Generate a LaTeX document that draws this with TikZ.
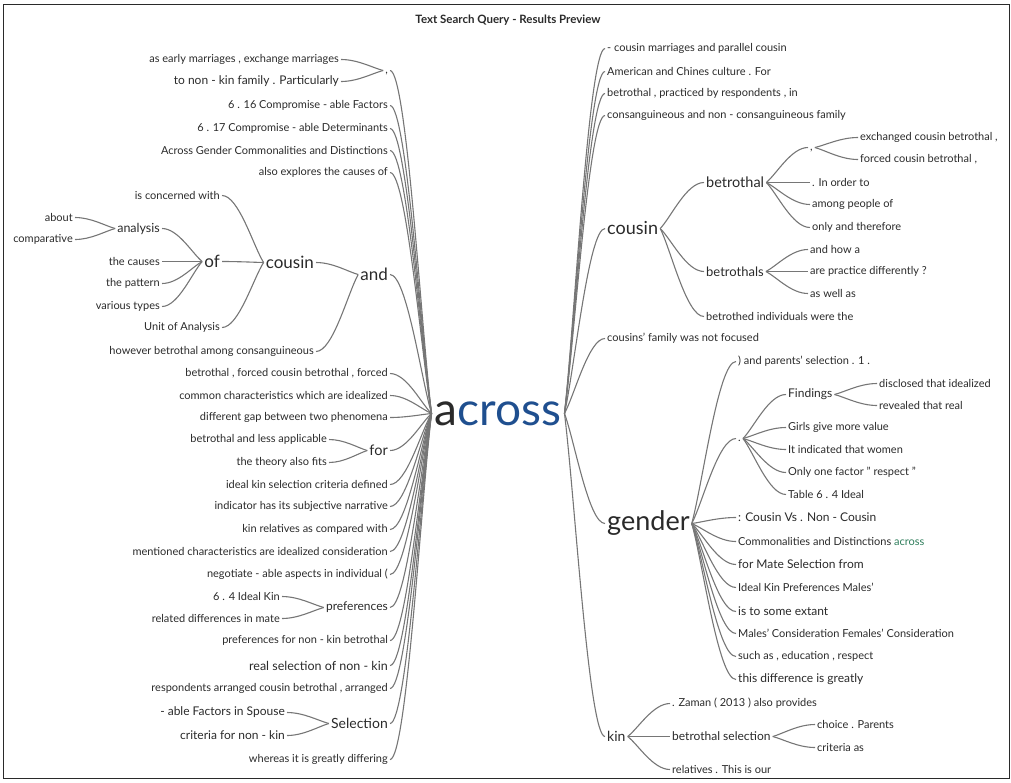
\documentclass[tikz,border=0pt]{standalone}
\usepackage{fontspec}
\setmainfont{Lato}
\usetikzlibrary{calc}

\definecolor{inkgray}{HTML}{2A2A2A}
\definecolor{wiregray}{HTML}{767676}
\definecolor{hitblue}{HTML}{1F4F8F}
\definecolor{hitgreen}{HTML}{2E7D5B}

\tikzset{
  wire/.style={draw=wiregray, line width=1.1pt},
  leafL/.style={anchor=east, inner sep=2pt, text=inkgray, font=\fontsize{11}{13}\selectfont},
  leafR/.style={anchor=west, inner sep=2pt, text=inkgray, font=\fontsize{11}{13}\selectfont},
  bigL/.style={leafL, font=\fontsize{12}{14}\selectfont},
  bigR/.style={leafR, font=\fontsize{12}{14}\selectfont},
  hubL/.style={anchor=east, inner sep=2pt, text=inkgray},
  hubR/.style={anchor=west, inner sep=2pt, text=inkgray},
  dotL/.style={hubL, font=\fontsize{11}{13}\selectfont, text height=1.2ex, text depth=0pt},
  dotR/.style={hubR, font=\fontsize{11}{13}\selectfont, text height=1.2ex, text depth=0pt}
}

% child (left of parent) -> parent
\newcommand{\joinL}[2]{\draw[wire] (#1.east) .. controls ($(#1.east)!0.4!(#2.west |- #1.east)$) and ($(#2.west)!0.25!(#1.east)$) .. (#2.west);}
% parent -> child (right of parent)
\newcommand{\joinR}[2]{\draw[wire] (#1.east) .. controls ($(#1.east)!0.25!(#2.west)$) and ($(#2.west)!0.4!(#1.east |- #2.west)$) .. (#2.west);}

\begin{document}
\begin{tikzpicture}[x=1pt, y=-1pt]
  \useasboundingbox (0,-0.5) rectangle (1011,781.5);
  \draw[inkgray, line width=0.8pt] (3,4) rectangle (1009,778);
  \node[font=\bfseries\fontsize{11.5}{13}\selectfont, text=inkgray] (title) at (508,20) {Text Search Query - Results Preview};

  % the search word
  \node[inner sep=3pt, font=\fontsize{46}{48}\selectfont, text=hitblue] (across) at (498,413) {\textcolor{inkgray}{a}cross};

  % left branches, straight to the search word
  \foreach \y/\t [count=\i] in {
    105/{6 . 16 Compromise - able Factors},
    128/{6 . 17 Compromise - able Determinants},
    150/{Across Gender Commonalities and Distinctions},
    172/{also explores the causes of},
    373/{betrothal , forced cousin betrothal , forced},
    395/{common characteristics which are idealized},
    417/{different gap between two phenomena},
    484/{ideal kin selection criteria defined},
    506/{indicator has its subjective narrative},
    529/{kin relatives as compared with},
    551/{mentioned characteristics are idealized consideration},
    574/{negotiate - able aspects in individual (},
    640/{preferences for non - kin betrothal},
    688/{respondents arranged cousin betrothal , arranged},
    759/{whereas it is greatly differing}} {
    \node[leafL] (la\i) at (390,\y) {\t};
    \joinL{la\i}{across}
  }
  \node[bigL, font=\fontsize{12.5}{14}\selectfont] (realsel) at (390,665) {real selection of non - kin};
  \joinL{realsel}{across}

  % left hubs
  \node[dotL] (commaL) at (390,70) {,};
  \node[hubL, font=\fontsize{17}{19}\selectfont] (andL) at (390,274) {and};
  \node[hubL, font=\fontsize{14.5}{16}\selectfont] (forL) at (390,450) {for};
  \node[hubL, font=\fontsize{12}{14}\selectfont] (prefL) at (390,607) {preferences};
  \node[hubL, font=\fontsize{14}{16}\selectfont] (selL) at (390,723) {Selection};
  \foreach \h in {commaL, andL, forL, prefL, selL} {
    \joinL{\h}{across}
  }

  \node[leafL] (early) at (341,59) {as early marriages , exchange marriages};
  \node[bigL] (nonkin) at (341,81) {to non - kin family . Particularly};
  \joinL{early}{commaL}
  \joinL{nonkin}{commaL}

  \node[hubL, font=\fontsize{17}{19}\selectfont] (cousinL) at (316,262) {cousin};
  \node[leafL] (however) at (316,351) {however betrothal among consanguineous};
  \joinL{cousinL}{andL}
  \joinL{however}{andL}

  \node[leafL] (concern) at (222,195) {is concerned with};
  \node[hubL, font=\fontsize{17}{19}\selectfont] (ofL) at (222,261) {of};
  \node[leafL] (unit) at (222,327) {Unit of Analysis};
  \foreach \c in {concern, ofL, unit} {
    \joinL{\c}{cousinL}
  }

  \node[hubL, font=\fontsize{12.5}{14}\selectfont] (analysis) at (162,228) {analysis};
  \node[leafL] (causes) at (162,261) {the causes};
  \node[leafL] (pattern) at (162,283) {the pattern};
  \node[leafL] (types) at (162,306) {various types};
  \foreach \c in {analysis, causes, pattern, types} {
    \joinL{\c}{ofL}
  }

  \node[leafL] (about) at (75,217) {about};
  \node[leafL] (compar) at (75,239) {comparative};
  \joinL{about}{analysis}
  \joinL{compar}{analysis}

  \node[leafL] (lessapp) at (329,439) {betrothal and less applicable};
  \node[leafL] (fits) at (329,462) {the theory also fits};
  \joinL{lessapp}{forL}
  \joinL{fits}{forL}

  \node[leafL] (idealkin) at (282,596) {6 . 4 Ideal Kin};
  \node[leafL] (mate) at (282,618) {related differences in mate};
  \joinL{idealkin}{prefL}
  \joinL{mate}{prefL}

  \node[bigL] (spouse) at (287,712) {- able Factors in Spouse};
  \node[bigL] (crit) at (287,735) {criteria for non - kin};
  \joinL{spouse}{selL}
  \joinL{crit}{selL}

  % right branches, straight from the search word
  \foreach \y/\t [count=\i] in {
    48/{- cousin marriages and parallel cousin},
    71/{American and Chines culture . For},
    93/{betrothal , practiced by respondents , in},
    115/{consanguineous and non - consanguineous family},
    338/{cousins' family was not focused}} {
    \node[leafR] (ra\i) at (605,\y) {\t};
    \joinR{across}{ra\i}
  }
  \node[hubR, font=\fontsize{18}{20}\selectfont] (cousinR) at (605,228) {cousin};
  \node[hubR, font=\fontsize{27}{30}\selectfont] (genderR) at (605,523) {gender};
  \node[hubR, font=\fontsize{14}{16}\selectfont] (kinR) at (605,736) {kin};
  \foreach \h in {cousinR, genderR, kinR} {
    \joinR{across}{\h}
  }

  % cousin
  \node[hubR, font=\fontsize{14.5}{16}\selectfont] (betr) at (704,182) {betrothal};
  \node[hubR, font=\fontsize{13}{15}\selectfont] (betrs) at (704,271) {betrothals};
  \node[leafR] (betrd) at (704,316) {betrothed individuals were the};
  \foreach \c in {betr, betrs, betrd} {
    \joinR{cousinR}{\c}
  }

  \node[dotR] (commaR) at (808,147) {,};
  \node[leafR] (order) at (810,182) {. In order to};
  \node[leafR] (among) at (810,204) {among people of};
  \node[leafR] (only) at (810,227) {only and therefore};
  \foreach \c in {commaR, order, among, only} {
    \joinR{betr}{\c}
  }
  \node[leafR] (exch) at (858,137) {exchanged cousin betrothal ,};
  \node[leafR] (forced) at (858,159) {forced cousin betrothal ,};
  \joinR{commaR}{exch}
  \joinR{commaR}{forced}

  \node[leafR] (howa) at (808,249) {and how a};
  \node[leafR] (diff) at (808,271) {are practice differently ?};
  \node[leafR] (aswell) at (808,293) {as well as};
  \foreach \c in {howa, diff, aswell} {
    \joinR{betrs}{\c}
  }

  % gender
  \node[leafR] (parents) at (736,361) {) and parents' selection . 1 .};
  \node[dotR] (dotG) at (736,438) {.};
  \foreach \y/\t/\s [count=\i] in {
    517/{: Cousin Vs . Non - Cousin}/bigR,
    541/{Commonalities and Distinctions \textcolor{hitgreen}{across}}/leafR,
    564/{for Mate Selection from}/bigR,
    587/{Ideal Kin Preferences Males'}/leafR,
    611/{is to some extant}/bigR,
    633/{Males' Consideration Females' Consideration}/leafR,
    656/{such as , education , respect}/leafR,
    679/{this difference is greatly}/bigR} {
    \node[\s] (ge\i) at (736,\y) {\t};
    \joinR{genderR}{ge\i}
  }
  \joinR{genderR}{parents}
  \joinR{genderR}{dotG}

  \node[hubR, font=\fontsize{12}{14}\selectfont] (find) at (786,394) {Findings};
  \node[leafR] (girls) at (786,427) {Girls give more value};
  \node[leafR] (women) at (786,449) {It indicated that women};
  \node[leafR] (respect) at (786,472) {Only one factor " respect "};
  \node[leafR] (table) at (786,494) {Table 6 . 4 Ideal};
  \foreach \c in {find, girls, women, respect, table} {
    \joinR{dotG}{\c}
  }
  \node[leafR] (discl) at (877,383) {disclosed that idealized};
  \node[leafR] (reveal) at (877,405) {revealed that real};
  \joinR{find}{discl}
  \joinR{find}{reveal}

  % kin
  \node[leafR] (zaman) at (670,703) {. Zaman ( 2013 ) also provides};
  \node[bigR] (betsel) at (670,736) {betrothal selection};
  \node[leafR] (relat) at (670,769) {relatives . This is our};
  \foreach \c in {zaman, betsel, relat} {
    \joinR{kinR}{\c}
  }
  \node[leafR] (choice) at (815,724) {choice . Parents};
  \node[leafR] (critas) at (815,747) {criteria as};
  \joinR{betsel}{choice}
  \joinR{betsel}{critas}
\end{tikzpicture}
\end{document}
